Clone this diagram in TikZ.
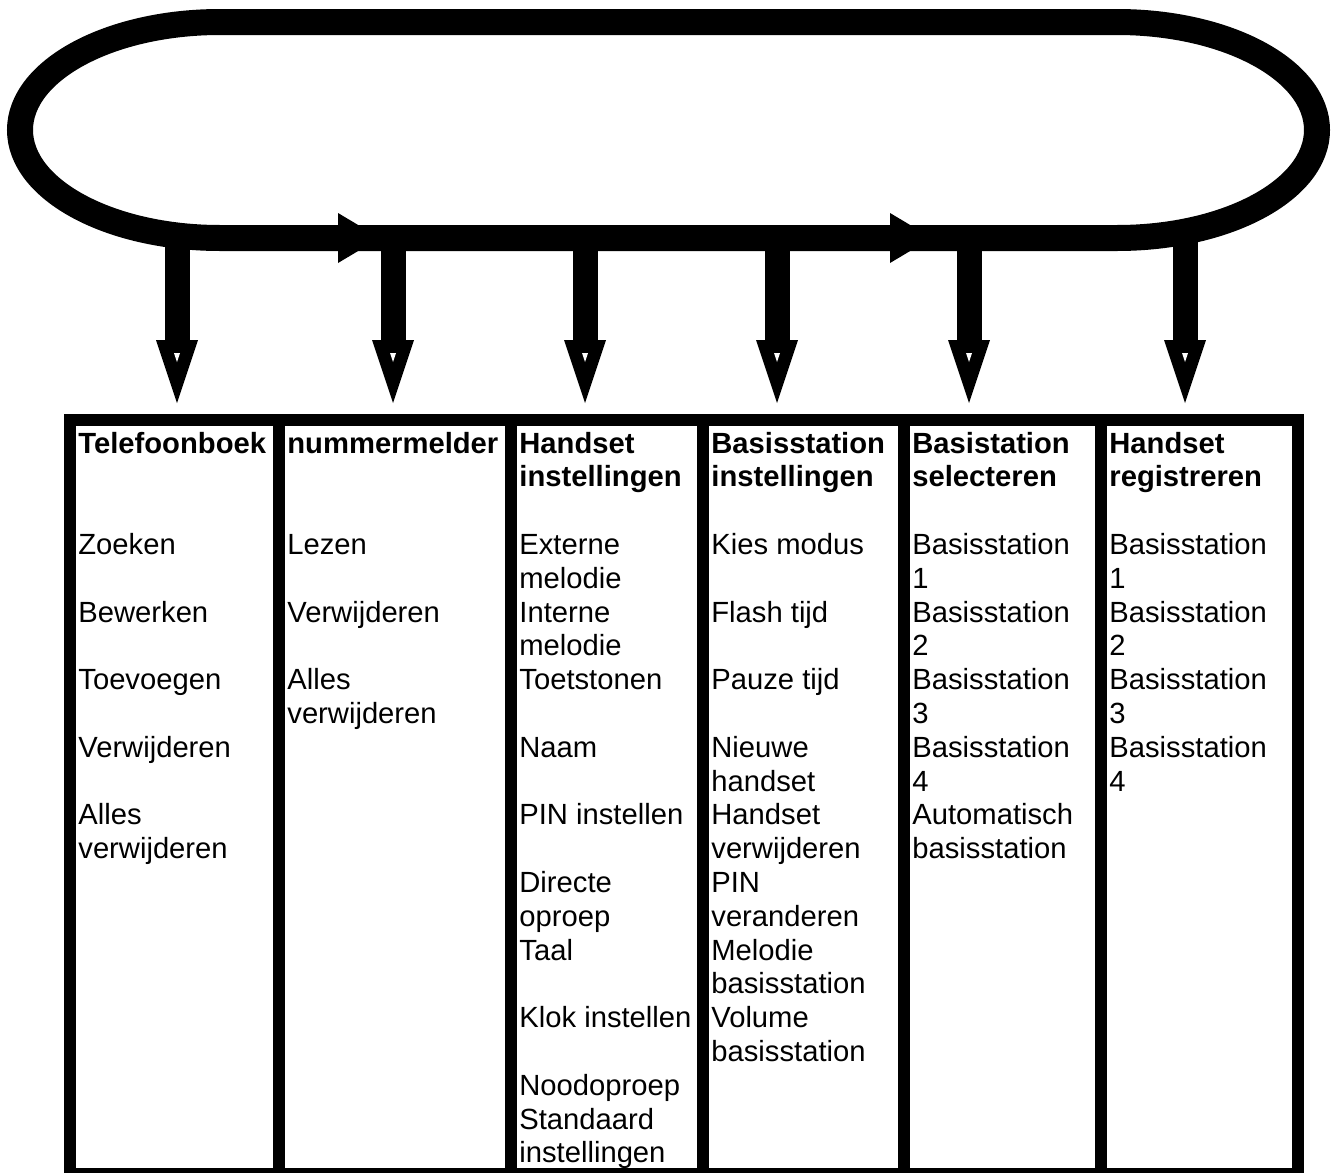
\documentclass[tikz,border=0pt]{standalone}
\usepackage{fontspec}
\setmainfont{Liberation Sans}
\usetikzlibrary{arrows.meta,calc}
\tikzset{loopline/.style={line width=13pt},
fatdown/.style={line width=12.5pt,-{Triangle[width=21pt,length=31.5pt,line width=0pt]}},
boxline/.style={line width=6pt},
item/.style={anchor=base west, inner sep=0pt, font=\fontsize{14.6pt}{16.9pt}\selectfont},
head/.style={item, font=\fontsize{14.6pt}{16.9pt}\selectfont\bfseries}}

\begin{document}
\begin{tikzpicture}[x=0.5pt,y=-0.5pt]
        \useasboundingbox (0,0) rectangle (1335,1173);

        % the menu loop
        \coordinate (lt) at (220,22);
        \coordinate (rt) at (1117,22);
        \coordinate (rb) at (1117,238);
        \coordinate (lb) at (220,238);
        \draw[loopline] (lt) -- (rt) arc[start angle=90, end angle=-90, x radius=100pt, y radius=54pt]
              -- (lb) arc[start angle=270, end angle=90, x radius=100pt, y radius=54pt] -- cycle;
        \fill (338,213) -- (380,238) -- (338,263) -- cycle;
        \fill (890,213) -- (932,238) -- (890,263) -- cycle;

        % arrows down to the submenus
        \foreach \x [count=\i] in {177,393,585,777,969,1185} {
            \coordinate (s\i) at (\x,238);
            \coordinate (t\i) at (\x,403);
            \draw[fatdown] (s\i) -- (t\i);
            \fill[white] (\x-3,353) -- (\x+3,353) -- (\x,362) -- cycle;
        }

        % submenu table
        \draw[boxline] (70,420) rectangle (1298,1174);
        \foreach \x in {279,511,703,904,1101}
            \draw[boxline] (\x,420) -- (\x,1174);

        \node[head] (a0) at (78,453) {Telefoonboek};
        \foreach \r/\t in {3/Zoeken,5/Bewerken,7/Toevoegen,9/Verwijderen,11/Alles,12/verwijderen}
            \node[item] (a\r) at (78,{453+33.8*\r}) {\t};

        \node[head] (b0) at (287,453) {nummermelder};
        \foreach \r/\t in {3/Lezen,5/Verwijderen,7/Alles,8/verwijderen}
            \node[item] (b\r) at (287,{453+33.8*\r}) {\t};

        \node[head] (c0) at (519,453) {Handset};
        \node[head] (c1) at (519,{453+33.8}) {instellingen};
        \foreach \r/\t in {3/Externe,4/melodie,5/Interne,6/melodie,7/Toetstonen,9/Naam,11/PIN instellen,
                           13/Directe,14/oproep,15/Taal,17/Klok instellen,19/Noodoproep,20/Standaard,21/instellingen}
            \node[item] (c\r) at (519,{453+33.8*\r}) {\t};

        \node[head] (d0) at (711,453) {Basisstation};
        \node[head] (d1) at (711,{453+33.8}) {instellingen};
        \foreach \r/\t in {3/Kies modus,5/Flash tijd,7/Pauze tijd,9/Nieuwe,10/handset,11/Handset,12/verwijderen,
                           13/PIN,14/veranderen,15/Melodie,16/basisstation,17/Volume,18/basisstation}
            \node[item] (d\r) at (711,{453+33.8*\r}) {\t};

        \node[head] (e0) at (912,453) {Basistation};
        \node[head] (e1) at (912,{453+33.8}) {selecteren};
        \foreach \r/\t in {3/Basisstation,4/1,5/Basisstation,6/2,7/Basisstation,8/3,9/Basisstation,10/4,
                           11/Automatisch,12/basisstation}
            \node[item] (e\r) at (912,{453+33.8*\r}) {\t};

        \node[head] (f0) at (1109,453) {Handset};
        \node[head] (f1) at (1109,{453+33.8}) {registreren};
        \foreach \r/\t in {3/Basisstation,4/1,5/Basisstation,6/2,7/Basisstation,8/3,9/Basisstation,10/4}
            \node[item] (f\r) at (1109,{453+33.8*\r}) {\t};
\end{tikzpicture}
\end{document}
